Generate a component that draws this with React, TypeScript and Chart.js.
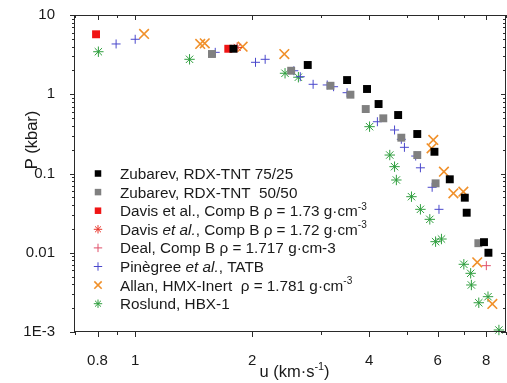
import React, { useEffect, useRef } from 'react';
import { Chart, registerables } from 'chart.js';

Chart.register(...registerables);

const FONT = '"Liberation Sans", Arial, Helvetica, sans-serif';
const TEXT = '#1a1a1a';

// ---- axis ticks ----
const xMajorTicks = [0.8, 1, 2, 4, 6, 8];
const xMajorLabels = ['0.8', '1', '2', '4', '6', '8'];
const xMinorTicks = [0.7, 0.9, 3, 5, 7, 9];
const yMajorTicks = [0.001, 0.01, 0.1, 1, 10];
const yMajorLabels = ['1E-3', '0.01', '0.1', '1', '10'];

const xTitle = 'u (km·s^{-1})';
const yTitle = 'P (kbar)';

// ---- series names (legend) ----
const seriesNames = [
  'Zubarev, RDX-TNT 75/25',
  'Zubarev, RDX-TNT  50/50',
  'Davis et al., Comp B ρ = 1.73 g·cm^{-3}',
  'Davis *et al.*, Comp B ρ = 1.72 g·cm^{-3}',
  'Deal, Comp B ρ = 1.717 g·cm-3',
  'Pinègree *et al.*, TATB',
  'Allan, HMX-Inert  ρ = 1.781 g·cm^{-3}',
  'Roslund, HBX-1',
];

// ---- data: u (km/s), P (kbar) ----
const zub7525U = [1.79, 2.78, 3.51, 3.95, 4.23, 4.75, 5.32, 5.89, 6.45, 7.05, 7.13, 7.9, 8.11];
const zub7525P = [3.75, 2.34, 1.51, 1.165, 0.753, 0.547, 0.315, 0.188, 0.0845, 0.0495, 0.032, 0.0136, 0.01];

const zub5050U = [1.576, 2.52, 3.18, 3.58, 3.92, 4.35, 4.84, 5.32, 5.93, 7.64];
const zub5050P = [3.22, 1.98, 1.28, 0.987, 0.651, 0.497, 0.283, 0.171, 0.0752, 0.0132];

const davis173U = [0.793, 1.736];
const davis173P = [5.71, 3.75];

const davis172U = [1.83];
const davis172P = [3.9];

const dealU = [8.01];
const dealP = [0.00687];

const pinegreeU = [0.893, 1.0, 1.607, 2.04, 2.16, 2.56, 2.66, 2.87, 3.12, 3.24, 3.51, 4.2, 4.65, 4.84, 4.93, 5.27, 5.42, 5.81, 6.05];
const pinegreeP = [4.31, 4.94, 3.38, 2.53, 2.76, 1.98, 1.665, 1.335, 1.31, 1.245, 1.046, 0.45, 0.354, 0.27, 0.214, 0.166, 0.118, 0.067, 0.0353];

const allanU = [1.054, 1.47, 1.51, 1.89, 2.42, 5.85, 5.79, 6.23, 6.59, 6.99, 7.59, 8.3];
const allanP = [5.76, 4.31, 4.39, 3.98, 3.22, 0.265, 0.208, 0.1054, 0.0562, 0.0589, 0.00758, 0.00226];

const roslundU = [0.804, 1.38, 2.43, 2.63, 4.01, 4.52, 4.65, 4.7, 5.14, 5.42, 5.73, 5.93, 6.14, 7.01, 7.3, 7.33, 7.66, 8.09, 8.63];
const roslundP = [3.44, 2.76, 1.84, 1.64, 0.39, 0.171, 0.122, 0.0828, 0.051, 0.0353, 0.0264, 0.0138, 0.0149, 0.00715, 0.0055, 0.00392, 0.00234, 0.00279, 0.00106];

type Marker = 'square' | 'asterisk' | 'plus' | 'cross';

const seriesStyles: { marker: Marker; color: string; r: number; lw: number; lr: number }[] = [
  { marker: 'square', color: '#000000', r: 5.6, lw: 1, lr: 4.6 },
  { marker: 'square', color: '#808080', r: 5.6, lw: 1, lr: 4.6 },
  { marker: 'square', color: '#f01414', r: 5.6, lw: 1, lr: 4.6 },
  { marker: 'asterisk', color: '#e8362c', r: 5, lw: 1, lr: 4.2 },
  { marker: 'plus', color: '#e0506a', r: 4.5, lw: 1, lr: 4.2 },
  { marker: 'plus', color: '#4a48cc', r: 4.5, lw: 1, lr: 4.2 },
  { marker: 'cross', color: '#f0902a', r: 6.8, lw: 1.6, lr: 5.2 },
  { marker: 'asterisk', color: '#2f9e3e', r: 5.2, lw: 1, lr: 4.2 },
];

const seriesU = [zub7525U, zub5050U, davis173U, davis172U, dealU, pinegreeU, allanU, roslundU];
const seriesP = [zub7525P, zub5050P, davis173P, davis172P, dealP, pinegreeP, allanP, roslundP];

const chartStyle: Record<Marker, string> = {
  square: 'rect',
  asterisk: 'star',
  plus: 'cross',
  cross: 'crossRot',
};

// ---- rich text helpers ----
type Seg = { text: string; italic: boolean; sup: boolean };
function parseRich(s: string): Seg[] {
  const parts = s.split(/(\*[^*]+\*|\^\{[^}]+\})/).filter((p) => p.length > 0);
  return parts.map((p) => {
    if (p.startsWith('*') && p.endsWith('*') && p.length > 1) return { text: p.slice(1, -1), italic: true, sup: false };
    if (p.startsWith('^{')) return { text: p.slice(2, -1), italic: false, sup: true };
    return { text: p, italic: false, sup: false };
  });
}
function segFont(seg: Seg, size: number) {
  const sz = seg.sup ? size * 0.66 : size;
  return `${seg.italic ? 'italic ' : ''}${sz}px ${FONT}`;
}
function richWidth(ctx: CanvasRenderingContext2D, s: string, size: number) {
  let w = 0;
  for (const seg of parseRich(s)) {
    ctx.font = segFont(seg, size);
    w += ctx.measureText(seg.text).width;
  }
  return w;
}
function drawRich(ctx: CanvasRenderingContext2D, s: string, x: number, y: number, size: number, align: 'left' | 'center') {
  let cx = align === 'center' ? x - richWidth(ctx, s, size) / 2 : x;
  ctx.textAlign = 'left';
  ctx.textBaseline = 'alphabetic';
  const base = y + size * 0.36;
  for (const seg of parseRich(s)) {
    ctx.font = segFont(seg, size);
    ctx.fillText(seg.text, cx, seg.sup ? base - size * 0.42 : base);
    cx += ctx.measureText(seg.text).width;
  }
}

function drawMarker(ctx: CanvasRenderingContext2D, m: Marker, x: number, y: number, r: number, color: string, lw: number) {
  ctx.save();
  ctx.strokeStyle = color;
  ctx.fillStyle = color;
  ctx.lineWidth = lw;
  const line = (x1: number, y1: number, x2: number, y2: number) => {
    ctx.beginPath();
    ctx.moveTo(x1, y1);
    ctx.lineTo(x2, y2);
    ctx.stroke();
  };
  if (m === 'square') {
    const h = r * Math.SQRT1_2;
    ctx.fillRect(x - h, y - h, 2 * h, 2 * h);
  } else if (m === 'plus') {
    line(x - r, y, x + r, y);
    line(x, y - r, x, y + r);
  } else if (m === 'cross') {
    const d = r * Math.SQRT1_2;
    line(x - d, y - d, x + d, y + d);
    line(x - d, y + d, x + d, y - d);
  } else {
    const d = r * Math.SQRT1_2;
    line(x - r, y, x + r, y);
    line(x, y - r, x, y + r);
    line(x - d, y - d, x + d, y + d);
    line(x - d, y + d, x + d, y - d);
  }
  ctx.restore();
}

const decorPlugin = {
  id: 'decor',
  afterDraw(chart: any) {
    const { ctx, chartArea: a, scales } = chart;
    const xs = scales.x;
    const ys = scales.y;
    ctx.save();
    ctx.strokeStyle = '#2a2a2a';
    ctx.lineWidth = 1;
    ctx.strokeRect(Math.round(a.left) - 0.5, Math.round(a.top) + 0.5, Math.round(a.right - a.left), Math.round(a.bottom - a.top) - 1);
    const line = (x1: number, y1: number, x2: number, y2: number) => {
      ctx.beginPath();
      ctx.moveTo(x1, y1);
      ctx.lineTo(x2, y2);
      ctx.stroke();
    };
    const xTick = (v: number, len: number) => {
      const x = Math.round(xs.getPixelForValue(v)) + 0.5;
      line(x, a.bottom, x, a.bottom + len);
      line(x, a.top, x, a.top + len);
    };
    xMajorTicks.forEach((v) => xTick(v, 5));
    xMinorTicks.forEach((v) => xTick(v, 3));
    const yTick = (v: number, len: number) => {
      const y = Math.round(ys.getPixelForValue(v)) + 0.5;
      line(a.left - len, y, a.left, y);
      line(a.right - len, y, a.right, y);
    };
    yMajorTicks.forEach((v) => yTick(v, 5));
    for (let i = 0; i < yMajorTicks.length - 1; i++) {
      for (let k = 2; k <= 9; k++) yTick(yMajorTicks[i] * k, 3);
    }

    // axis titles
    ctx.fillStyle = TEXT;
    drawRich(ctx, xTitle, (a.left + a.right) / 2 + 4, 371, 16.5, 'center');
    ctx.save();
    ctx.translate(31, 140);
    ctx.rotate(-Math.PI / 2);
    drawRich(ctx, yTitle, 0, 0, 16.5, 'center');
    ctx.restore();

    // legend
    seriesNames.forEach((name, i) => {
      const st = seriesStyles[i];
      const y = 173.5 + i * 18.6;
      drawMarker(ctx, st.marker, 98, y, st.lr, st.color, st.lw);
      ctx.fillStyle = TEXT;
      drawRich(ctx, name, 120, y, 15.3, 'left');
    });
    ctx.restore();
  },
};

export default function App() {
  const ref = useRef<HTMLCanvasElement | null>(null);
  useEffect(() => {
    if (!ref.current) return;
    const datasets = seriesNames.map((name, i) => {
      const st = seriesStyles[i];
      return {
        label: name,
        data: seriesU[i].map((u, j) => ({ x: u, y: seriesP[i][j] })),
        pointStyle: chartStyle[st.marker],
        pointRadius: st.r,
        pointBorderWidth: st.lw,
        borderColor: st.color,
        backgroundColor: st.color,
        pointBackgroundColor: st.color,
        pointBorderColor: st.marker === 'square' ? 'rgba(0,0,0,0)' : st.color,
        showLine: false,
        clip: false as any,
      };
    });
    const chart = new Chart(ref.current, {
      type: 'scatter',
      data: { datasets },
      options: {
        animation: false,
        responsive: false,
        devicePixelRatio: 1,
        layout: { autoPadding: false, padding: { left: 0, right: 1, top: 15, bottom: 0 } },
        plugins: { legend: { display: false }, tooltip: { enabled: false } },
        scales: {
          x: {
            type: 'logarithmic',
            min: 0.7,
            max: 9,
            grid: { display: false },
            border: { display: false },
            ticks: {
              autoSkip: false,
              maxRotation: 0,
              padding: 12,
              color: TEXT,
              font: { family: FONT, size: 15 },
              callback: (v: any) => xMajorLabels[xMajorTicks.indexOf(Number(v))] ?? '',
            },
            afterBuildTicks: (s: any) => {
              s.ticks = xMajorTicks.map((v) => ({ value: v }));
            },
            afterFit: (s: any) => {
              s.height = 51;
              s.paddingLeft = 0;
              s.paddingRight = 0;
            },
          },
          y: {
            type: 'logarithmic',
            min: 0.001,
            max: 10,
            grid: { display: false },
            border: { display: false },
            ticks: {
              autoSkip: false,
              padding: 12,
              color: TEXT,
              font: { family: FONT, size: 15 },
              callback: (v: any) => yMajorLabels[yMajorTicks.indexOf(Number(v))] ?? '',
            },
            afterBuildTicks: (s: any) => {
              s.ticks = yMajorTicks.map((v) => ({ value: v }));
            },
            afterFit: (s: any) => {
              s.width = 75;
              s.paddingTop = 0;
              s.paddingBottom = 0;
            },
          },
        },
      },
      plugins: [decorPlugin],
    });
    return () => chart.destroy();
  }, []);
  return (
    <div style={{ position: 'fixed', left: 0, top: 0, width: 507, height: 383, background: '#fff' }}>
      <canvas ref={ref} width={507} height={383} style={{ display: 'block' }} />
    </div>
  );
}
